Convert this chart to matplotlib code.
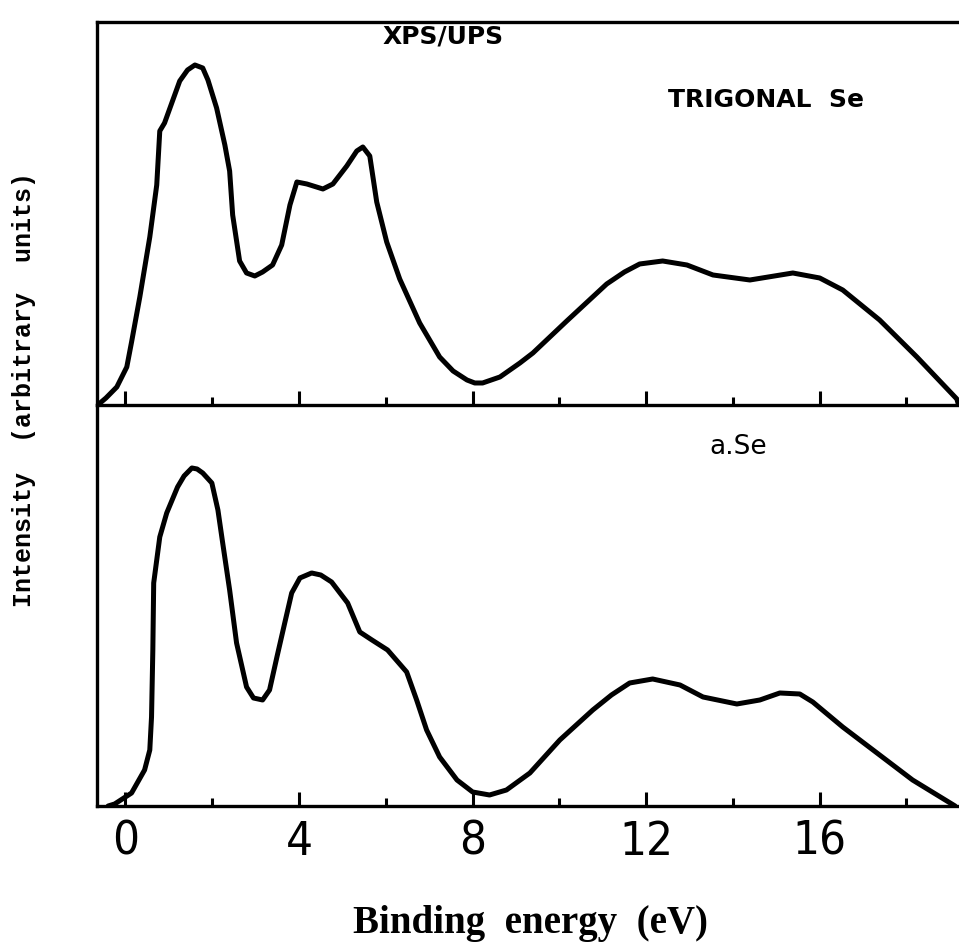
import matplotlib
matplotlib.use('Agg')
import matplotlib.pyplot as plt
from matplotlib import font_manager as fm

# ---- data ----
trig_energy = [-0.64, -0.45, -0.20, 0.03, 0.14, 0.33, 0.56, 0.72, 0.79, 0.90,
               1.25, 1.43, 1.60, 1.78, 1.90, 2.10, 2.29, 2.40, 2.47, 2.63,
               2.79, 2.98, 3.16, 3.39, 3.60, 3.79, 3.95, 4.18, 4.55, 4.78,
               5.10, 5.33, 5.47, 5.63, 5.79, 6.02, 6.32, 6.78, 7.24, 7.55,
               7.87, 8.05, 8.23, 8.63, 9.09, 9.39, 10.17, 11.09, 11.50, 11.85,
               12.38, 12.94, 13.54, 14.39, 15.38, 16.00, 16.53, 17.38, 18.24, 19.16,
               19.20]
trig_intensity = [0, 7, 18, 38, 63, 108, 168, 220, 274, 282,
                  324, 335, 340, 337, 325, 297, 260, 234, 190, 144,
                  132, 129, 133, 140, 160, 200, 223, 221, 216, 221,
                  239, 254, 258, 249, 203, 163, 126, 82, 48, 34,
                  25, 22, 22, 28, 42, 52, 84, 121, 133, 141,
                  144, 140, 130, 125, 132, 127, 115, 85, 48, 6,
                  0]

amor_energy = [-0.40, -0.25, 0.14, 0.44, 0.56, 0.60, 0.63, 0.65, 0.72, 0.79,
               0.95, 1.20, 1.35, 1.53, 1.65, 1.78, 1.99, 2.13, 2.24, 2.40,
               2.56, 2.79, 2.95, 3.16, 3.32, 3.49, 3.67, 3.83, 4.02, 4.29,
               4.50, 4.75, 5.12, 5.40, 5.68, 6.04, 6.48, 6.71, 6.94, 7.24,
               7.64, 8.00, 8.39, 8.78, 9.32, 10.01, 10.77, 11.20, 11.62, 12.15,
               12.78, 13.31, 14.09, 14.62, 15.08, 15.54, 15.84, 16.53, 17.32, 18.14,
               19.12]
amor_intensity = [0, 2, 13, 36, 56, 89, 156, 223, 246, 269,
                  293, 319, 330, 338, 337, 333, 323, 296, 263, 216,
                  163, 119, 108, 106, 116, 149, 183, 213, 228, 233,
                  231, 224, 203, 174, 166, 156, 134, 106, 76, 49,
                  26, 14, 11, 16, 33, 66, 96, 111, 123, 127,
                  121, 109, 102, 106, 113, 112, 104, 79, 53, 26,
                  0]

major_ticks = [0, 4, 8, 12, 16]
minor_ticks = [2, 6, 10, 14, 18]
tick_labels = ['0', '4', '8', '12', '16']

x_label = 'Binding  energy  (eV)'
y_label = 'Intensity  (arbitrary  units)'
title_text = 'XPS/UPS'
top_label = 'TRIGONAL  Se'
bottom_label = 'a.Se'

# ---- fonts ----
names = {f.name for f in fm.fontManager.ttflist}
if 'Liberation Sans Narrow' in names:
    tick_font = dict(family='Liberation Sans Narrow', size=41)
elif any(f.name == 'DejaVu Sans' and str(f.stretch) in ('condensed', 'semi-condensed')
         for f in fm.fontManager.ttflist):
    tick_font = dict(family='DejaVu Sans', stretch='condensed', size=34)
else:
    tick_font = dict(family='DejaVu Sans', size=30)

# ---- figure ----
fig = plt.figure(figsize=(9.59, 9.48), dpi=100)
ax_top = fig.add_axes([0.101, 0.5728, 0.899, 0.404])
ax_bot = fig.add_axes([0.101, 0.1498, 0.899, 0.423])

line_kw = dict(color='black', lw=3.6, solid_joinstyle='round', solid_capstyle='round')
ax_top.plot(trig_energy, trig_intensity, **line_kw)
ax_bot.plot(amor_energy, amor_intensity, **line_kw)

for ax, ymax in ((ax_top, 383), (ax_bot, 401)):
    ax.set_xlim(-0.66, 19.21)
    ax.set_ylim(0, ymax)
    ax.set_yticks([])
    ax.set_xticks(major_ticks)
    ax.set_xticks(minor_ticks, minor=True)
    ax.tick_params(axis='x', which='major', direction='in', length=10, width=2.2,
                   color='black')
    ax.tick_params(axis='x', which='minor', direction='in', length=6, width=2.2,
                   color='black')
    ax.spines['right'].set_visible(False)
    for s in ('left', 'bottom', 'top'):
        ax.spines[s].set_linewidth(2.4)
    ax.patch.set_alpha(0)

ax_bot.spines['top'].set_visible(False)
ax_top.tick_params(axis='x', which='both', labelbottom=False)
ax_bot.set_xticklabels(tick_labels, **tick_font)
ax_bot.tick_params(axis='x', which='major', pad=10)

fig.text(0.462, 0.961, title_text, ha='center', va='center',
         fontsize=18, family='DejaVu Sans', fontweight='bold')
fig.text(0.799, 0.894, top_label, ha='center', va='center',
         fontsize=18, family='DejaVu Sans', fontweight='bold')
fig.text(0.770, 0.528, bottom_label, ha='center', va='center',
         fontsize=19, family='DejaVu Sans')

fig.text(0.553, 0.026, x_label, ha='center', va='center',
         fontsize=28, family='Liberation Serif', fontweight='bold')
fig.text(0.025, 0.589, y_label, ha='center', va='center', rotation=90,
         fontsize=18, family='Liberation Mono', fontweight='bold')

fig.savefig('out.png', dpi=100, facecolor='white')
